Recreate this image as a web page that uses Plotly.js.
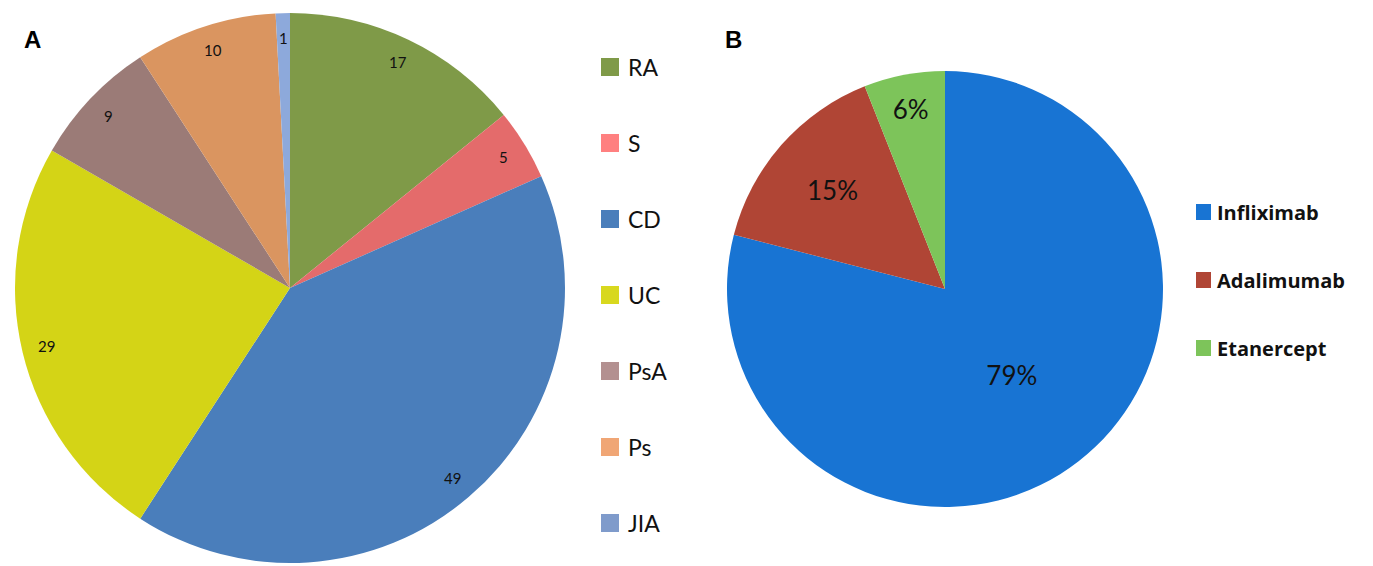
<!DOCTYPE html>
<html><head><meta charset="utf-8">
<script src="https://cdn.plot.ly/plotly-3.0.1.min.js"></script>
<style>html,body{margin:0;padding:0;background:#fff}#chart{width:1373px;height:566px}</style>
</head><body><div id="chart"></div>
<script>
// Panel A: number of patients by diagnosis
const catsA = ['RA', 'S', 'CD', 'UC', 'PsA', 'Ps', 'JIA'];
const valsA = [17, 5, 49, 29, 9, 10, 1];
const sliceColorsA = ['#7F9A48', '#E46B6B', '#4A7EBB', '#D4D416', '#9B7B77', '#DA9560', '#8DA9DB'];
const legendColorsA = ['#7F9A48', '#FF8080', '#4A7EBB', '#D8D81E', '#B39090', '#F0A675', '#7F9BCB'];
// Panel B: anti-TNF agent share (%)
const catsB = ['Infliximab', 'Adalimumab', 'Etanercept'];
const valsB = [79, 15, 6];
const colorsB = ['#1874D3', '#B04535', '#7DC45A'];

const W = 1373, H = 566;
const FONT = 'Lato, "Open Sans", sans-serif';
const px = x => x / W, py = y => 1 - y / H;

// pie geometry (pixels)
const A = {cx: 290, cy: 288, r: 275};
const B = {x0: 727, x1: 1163, y0: 70, y1: 508};

const traces = [
  {type: 'pie', labels: catsA, values: valsA, sort: false, direction: 'clockwise', rotation: 0,
   marker: {colors: sliceColorsA, line: {width: 0}}, textinfo: 'none', hoverinfo: 'label+value',
   showlegend: false,
   domain: {x: [px(A.cx - A.r), px(A.cx + A.r)], y: [py(A.cy + A.r), py(A.cy - A.r)]}},
  {type: 'pie', labels: catsB, values: valsB, sort: false, direction: 'clockwise', rotation: 0,
   marker: {colors: colorsB, line: {width: 0}}, texttemplate: '%{value}%', textposition: 'inside',
   insidetextorientation: 'horizontal', textfont: {family: FONT, size: 26, color: '#111'},
   showlegend: false,
   domain: {x: [px(B.x0), px(B.x1)], y: [py(B.y1), py(B.y0)]}}
];

const annotations = [];
const shapes = [];
// value labels for pie A, placed near outer edge of each slice
const totalA = valsA.reduce((a, b) => a + b, 0);
let cum = 0;
valsA.forEach((v, i) => {
  const mid = (cum + v / 2) / totalA * 2 * Math.PI;
  cum += v;
  const rr = A.r * 0.91;
  annotations.push({xref: 'paper', yref: 'paper', x: px(A.cx + rr * Math.sin(mid)), y: py(A.cy - rr * Math.cos(mid)),
    text: String(v), showarrow: false, font: {family: FONT, size: 15, color: '#111'}, xanchor: 'center', yanchor: 'middle'});
});
// legend A
catsA.forEach((c, i) => {
  const yc = 67 + i * 76;
  shapes.push({type: 'rect', xref: 'paper', yref: 'paper', x0: px(601), x1: px(619), y0: py(yc + 9), y1: py(yc - 9),
    fillcolor: legendColorsA[i], line: {width: 0}});
  annotations.push({xref: 'paper', yref: 'paper', x: px(626), y: py(yc), text: c, showarrow: false,
    xanchor: 'left', yanchor: 'middle', font: {family: FONT, size: 23, color: '#111'}});
});
// legend B
catsB.forEach((c, i) => {
  const yc = 212 + i * 68;
  shapes.push({type: 'rect', xref: 'paper', yref: 'paper', x0: px(1196), x1: px(1211), y0: py(yc + 8), y1: py(yc - 8),
    fillcolor: colorsB[i], line: {width: 0}});
  annotations.push({xref: 'paper', yref: 'paper', x: px(1215), y: py(yc), text: '<b>' + c + '</b>', showarrow: false,
    xanchor: 'left', yanchor: 'middle', font: {family: '"Open Sans", sans-serif', size: 20, color: '#111'}});
});
// panel letters
annotations.push({xref: 'paper', yref: 'paper', x: px(22), y: py(24), text: '<b>A</b>', showarrow: false,
  font: {family: 'Arial, "Liberation Sans", sans-serif', size: 24, color: '#000'}});
annotations.push({xref: 'paper', yref: 'paper', x: px(733), y: py(24), text: '<b>B</b>', showarrow: false,
  font: {family: 'Arial, "Liberation Sans", sans-serif', size: 24, color: '#000'}});

Plotly.newPlot('chart', traces, {
  width: W, height: H, margin: {l: 0, r: 0, t: 0, b: 0}, paper_bgcolor: '#fff', showlegend: false,
  annotations, shapes
}, {staticPlot: true});
</script></body></html>
